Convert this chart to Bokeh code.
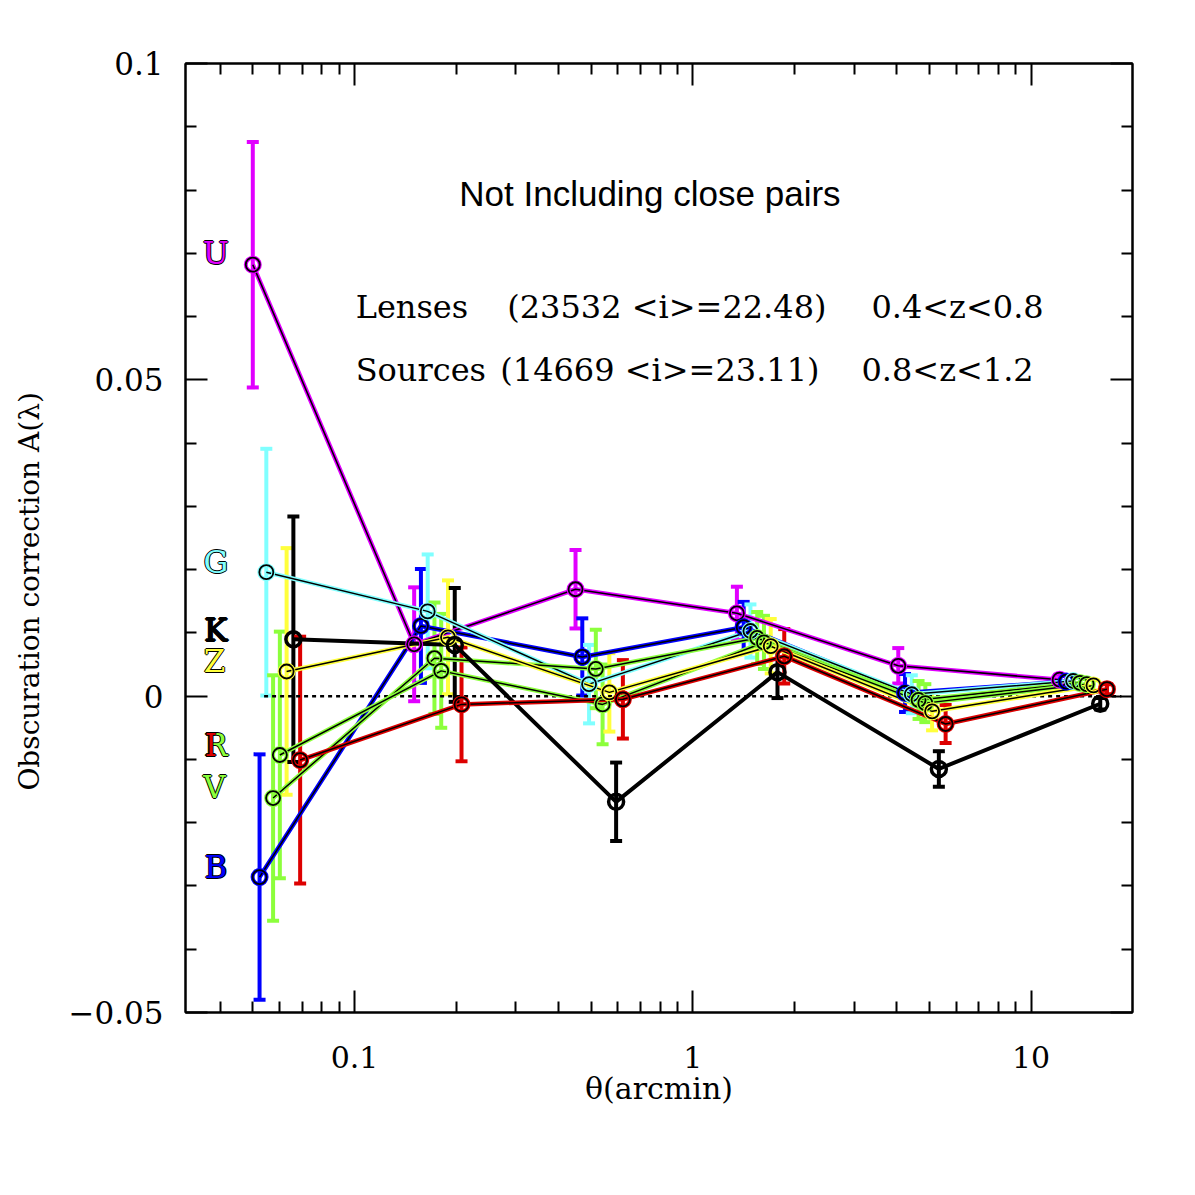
import numpy as np
from bokeh.plotting import figure
from bokeh.models import (FixedTicker, LogAxis, LinearAxis, CustomJSTickFormatter,
                          Range1d)
from bokeh.core.properties import value
from bokeh.embed import file_html
from bokeh.resources import INLINE

# ---------------- data ----------------
theta_bins = [0.05, 0.15, 0.45, 1.35, 4.05, 12.15]   # arcmin, bin centres
bands = ["U", "B", "G", "V", "R", "Z", "K", "I"]       # plotting order (dodged)
dodge_dex = 0.02                                        # horizontal dodge per band

A_U = [0.0682, 0.0082, 0.0169, 0.0131, 0.0048, 0.0026]
E_U = [0.0194, 0.0090, 0.0062, 0.0042, 0.0028, 0.0008]
A_B = [-0.0286, 0.0111, 0.0062, 0.0109, 0.0005, 0.0023]
E_B = [0.0194, 0.0090, 0.0061, 0.0040, 0.0030, 0.0009]
A_G = [0.0196, 0.0134, 0.0019, 0.0103, 0.0003, 0.0024]
E_G = [0.0195, 0.0090, 0.0062, 0.0042, 0.0030, 0.0008]
A_V = [-0.0161, 0.0060, 0.0043, 0.0092, -0.0006, 0.0021]
E_V = [0.0194, 0.0088, 0.0062, 0.0041, 0.0030, 0.0008]
A_R = [-0.0093, 0.0040, -0.0013, 0.0085, -0.0011, 0.0019]
E_R = [0.0195, 0.0090, 0.0063, 0.0042, 0.0030, 0.0008]
A_Z = [0.0039, 0.0093, 0.0006, 0.0079, -0.0024, 0.0017]
E_Z = [0.0195, 0.0090, 0.0062, 0.0043, 0.0030, 0.0008]
A_K = [0.0090, 0.0081, -0.0167, 0.0038, -0.0115, -0.0012]
E_K = [0.0194, 0.0090, 0.0062, 0.0041, 0.0028, 0.0009]
A_I = [-0.0101, -0.0013, -0.0005, 0.0063, -0.0044, 0.0011]
E_I = [0.0195, 0.0090, 0.0062, 0.0043, 0.0030, 0.0008]

values = {"U": A_U, "B": A_B, "G": A_G, "V": A_V, "R": A_R, "Z": A_Z, "K": A_K, "I": A_I}
errors = {"U": E_U, "B": E_B, "G": E_G, "V": E_V, "R": E_R, "Z": E_Z, "K": E_K, "I": E_I}

colors = {"U": "#E100FF", "B": "#0000FF", "G": "#80FFFF", "V": "#8CFF3C",
          "R": "#8CFF3C", "Z": "#FFFF3C", "K": "#000000", "I": "#DD0000"}

# band labels at left (text positions)
label_x = {"U": 0.0389, "G": 0.0389, "K": 0.0389, "Z": 0.0385, "R": 0.0389,
           "I": 0.0376, "V": 0.0385, "B": 0.0389}
label_y = {"U": 0.0700, "G": 0.0212, "K": 0.0104, "Z": 0.0055, "R": -0.0077,
           "I": -0.0077, "V": -0.0144, "B": -0.0270}
label_order = ["U", "G", "K", "Z", "R", "I", "V", "B"]

title_text = "Not Including close pairs"
lens_parts = ["Lenses", "(23532 <i>=22.48)", "0.4<z<0.8"]
src_parts = ["Sources", "(14669 <i>=23.11)", "0.8<z<1.2"]
y_title = "Obscuration correction A(λ)"
x_title = "θ(arcmin)"

# ---------------- figure ----------------
p = figure(x_axis_type="log",
           x_range=Range1d(10 ** -1.5, 10 ** 1.3),
           y_range=Range1d(-0.05, 0.1),
           frame_width=947, frame_height=949,
           min_border_left=185, min_border_top=63,
           min_border_right=40, min_border_bottom=110,
           output_backend="svg", toolbar_location=None)
p.xgrid.visible = False
p.ygrid.visible = False
p.outline_line_color = "black"
p.outline_line_width = 2
p.background_fill_color = "white"
p.border_fill_color = "white"

x_major = [0.1, 1, 10]
x_minor = [0.04, 0.05, 0.06, 0.07, 0.08, 0.09,
           0.2, 0.3, 0.4, 0.5, 0.6, 0.7, 0.8, 0.9,
           2, 3, 4, 5, 6, 7, 8, 9]
y_major = [-0.05, 0, 0.05, 0.1]
y_minor = [-0.04, -0.03, -0.02, -0.01, 0.01, 0.02, 0.03, 0.04,
           0.06, 0.07, 0.08, 0.09]


def style_axis(ax):
    ax.major_tick_in = 22
    ax.major_tick_out = 0
    ax.minor_tick_in = 11
    ax.minor_tick_out = 0
    ax.major_tick_line_width = 2
    ax.minor_tick_line_width = 2
    ax.axis_line_width = 2
    ax.major_tick_line_color = "black"
    ax.minor_tick_line_color = "black"
    ax.axis_line_color = "black"


xa = p.xaxis[0]
xa.ticker = FixedTicker(ticks=x_major, minor_ticks=x_minor)
xa.formatter = CustomJSTickFormatter(code="return String(tick);")
style_axis(xa)
xa.major_label_text_font = "DejaVu Serif"
xa.major_label_text_font_size = "30px"
xa.major_label_text_color = "black"
xa.major_label_standoff = 33
xa.axis_label = x_title
xa.axis_label_text_font = "DejaVu Serif"
xa.axis_label_text_font_size = "30px"
xa.axis_label_text_font_style = "normal"
xa.axis_label_text_color = "black"
xa.axis_label_standoff = 0

ya = p.yaxis[0]
ya.ticker = FixedTicker(ticks=y_major, minor_ticks=y_minor)
ya.formatter = CustomJSTickFormatter(
    code="if (Math.abs(tick) < 1e-12) return '0'; "
         "return tick < 0 ? '\u2212' + String(Math.abs(tick)) : String(tick);")
style_axis(ya)
ya.major_label_text_font = "DejaVu Serif"
ya.major_label_text_font_size = "31px"
ya.major_label_text_color = "black"
ya.major_label_standoff = 22
# title is shifted downwards (as in the original) by padding its upper end
ya.axis_label = y_title + "\u00a0" * 12
ya.axis_label_text_font = "DejaVu Serif"
ya.axis_label_text_font_size = "28px"
ya.axis_label_text_font_style = "normal"
ya.axis_label_text_color = "black"
ya.axis_label_standoff = 20

top = LogAxis(ticker=FixedTicker(ticks=x_major, minor_ticks=x_minor),
              formatter=CustomJSTickFormatter(code="return '';"))
style_axis(top)
top.major_label_text_font_size = "0px"
top.major_label_standoff = 0
p.add_layout(top, "above")

right = LinearAxis(ticker=FixedTicker(ticks=y_major, minor_ticks=y_minor),
                   formatter=CustomJSTickFormatter(code="return '';"))
style_axis(right)
right.major_label_text_font_size = "0px"
right.major_label_standoff = 0
p.add_layout(right, "right")

# ---------------- positions ----------------
xpos = {}
for i, b in enumerate(bands):
    xpos[b] = [t * 10 ** (dodge_dex * i) for t in theta_bins]

# error bars
for b in bands:
    x = xpos[b]
    y = values[b]
    e = errors[b]
    lo = [yy - ee for yy, ee in zip(y, e)]
    hi = [yy + ee for yy, ee in zip(y, e)]
    p.segment(x0=x, y0=lo, x1=x, y1=hi, line_color=colors[b], line_width=4)
    p.scatter(x=x + x, y=lo + hi, marker="dash", size=12,
              line_color=colors[b], line_width=4)

# zero line
p.line(x=[0.054, 18.5], y=[0, 0], line_color="black", line_width=2.5,
       line_dash="4 4")

# connecting lines
for b in bands:
    if b == "K":
        p.line(x=xpos[b], y=values[b], line_color="black", line_width=4)
    else:
        p.line(x=xpos[b], y=values[b], line_color=colors[b], line_width=4.5)
        p.line(x=xpos[b], y=values[b], line_color="black", line_width=1.5)

# markers
for b in bands:
    if b == "K":
        p.scatter(x=xpos[b], y=values[b], marker="circle", size=15,
                  fill_color=None, line_color="black", line_width=3.5)
    else:
        p.scatter(x=xpos[b], y=values[b], marker="circle", size=14,
                  fill_color=None, line_color=colors[b], line_width=4)
        p.scatter(x=xpos[b], y=values[b], marker="circle", size=14,
                  fill_color=None, line_color="black", line_width=1.8)

# band labels with thin black outline
for b in label_order:
    for dx, dy in [(-1, 0), (1, 0), (0, -1), (0, 1)]:
        p.text(x=[label_x[b]], y=[label_y[b]], text=[b], text_color="black",
               text_font=value("DejaVu Serif"), text_font_size=value("31px"),
               text_align="center", text_baseline="middle",
               x_offset=dx, y_offset=dy)
    p.text(x=[label_x[b]], y=[label_y[b]], text=[b], text_color=colors[b],
           text_font=value("DejaVu Serif"), text_font_size=value("31px"),
           text_align="center", text_baseline="middle")

# annotation texts
p.text(x=[0.7467], y=[0.0795], text=[title_text], text_color="black",
       text_font=value("Liberation Sans"), text_font_size=value("35px"),
       text_align="center", text_baseline="middle")

lens_x = [0.1007, 0.2827, 3.373]
src_x = [0.1007, 0.2696, 3.152]
for xx, t in zip(lens_x, lens_parts):
    p.text(x=[xx], y=[0.0615], text=[t], text_color="black",
           text_font=value("DejaVu Serif"), text_font_size=value("32px"),
           text_align="left", text_baseline="middle")
for xx, t in zip(src_x, src_parts):
    p.text(x=[xx], y=[0.0515], text=[t], text_color="black",
           text_font=value("DejaVu Serif"), text_font_size=value("32px"),
           text_align="left", text_baseline="middle")

open("out.html", "w").write(file_html(p, INLINE))
